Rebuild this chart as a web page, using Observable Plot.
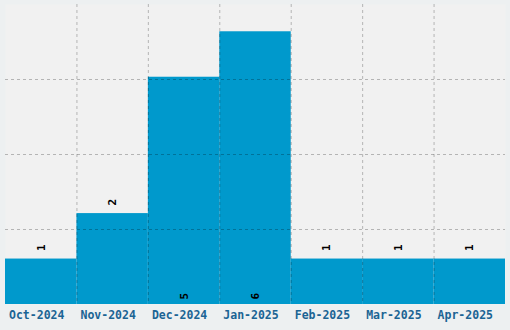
<!DOCTYPE html>
<html>
<head>
<meta charset="utf-8">
<script src="https://cdn.jsdelivr.net/npm/d3@7"></script>
<script src="https://cdn.jsdelivr.net/npm/@observablehq/plot@0.6"></script>
<style>
  html, body { margin: 0; padding: 0; background: #edf0f1; }
  #chart svg { display: block; }
</style>
</head>
<body>
<div id="chart"></div>
<script>
const months = ["Oct-2024", "Nov-2024", "Dec-2024", "Jan-2025", "Feb-2025", "Mar-2025", "Apr-2025"];
const counts = [1, 2, 5, 6, 1, 1, 1];
const yGridTicks = [1.65, 3.3, 4.95];
const yMax = 6.6;
const insideLabelMin = 5;

const data = months.map((m, i) => ({month: m, i, v: counts[i]}));
const bandCenters = months.map((m, i) => i + 0.5);
const bandEdges = months.slice(1).map((m, i) => i + 1);

const labelStyle = {
  fontFamily: "DejaVu Sans Mono",
  fontSize: 11,
  fontWeight: "bold",
  fill: "#000"
};

const chart = Plot.plot({
  width: 510,
  height: 330,
  marginLeft: 5,
  marginRight: 5,
  marginTop: 4,
  marginBottom: 26,
  style: {background: "#edf0f1", fontFamily: "DejaVu Sans Mono"},
  x: {domain: [0, months.length], axis: null},
  y: {domain: [0, yMax], axis: null},
  marks: [
    Plot.frame({fill: "#f1f1f1", stroke: null}),
    Plot.rect(data, {x1: "i", x2: d => d.i + 1, y1: 0, y2: "v", fill: "#0099cc"}),
    Plot.gridY(yGridTicks, {stroke: "#000", strokeOpacity: 0.25, strokeDasharray: "3,3"}),
    Plot.gridX(bandEdges, {stroke: "#000", strokeOpacity: 0.25, strokeDasharray: "3,3"}),
    Plot.axisX(bandCenters, {
      label: null,
      tickSize: 0,
      tickPadding: 6,
      dx: -4.5,
      tickFormat: d => months[Math.round(d - 0.5)],
      fill: "#1b6494",
      fontSize: 11.5,
      fontWeight: "bold",
      fontFamily: "DejaVu Sans Mono"
    }),
    Plot.text(data.filter(d => d.v < insideLabelMin), {
      x: d => d.i + 0.5,
      y: "v",
      text: d => String(d.v),
      rotate: -90,
      textAnchor: "start",
      dy: -8,
      ...labelStyle
    }),
    Plot.text(data.filter(d => d.v >= insideLabelMin), {
      x: d => d.i + 0.5,
      y: 0,
      text: d => String(d.v),
      rotate: -90,
      textAnchor: "start",
      dy: -5,
      ...labelStyle
    })
  ]
});

document.getElementById("chart").append(chart);
</script>
</body>
</html>
